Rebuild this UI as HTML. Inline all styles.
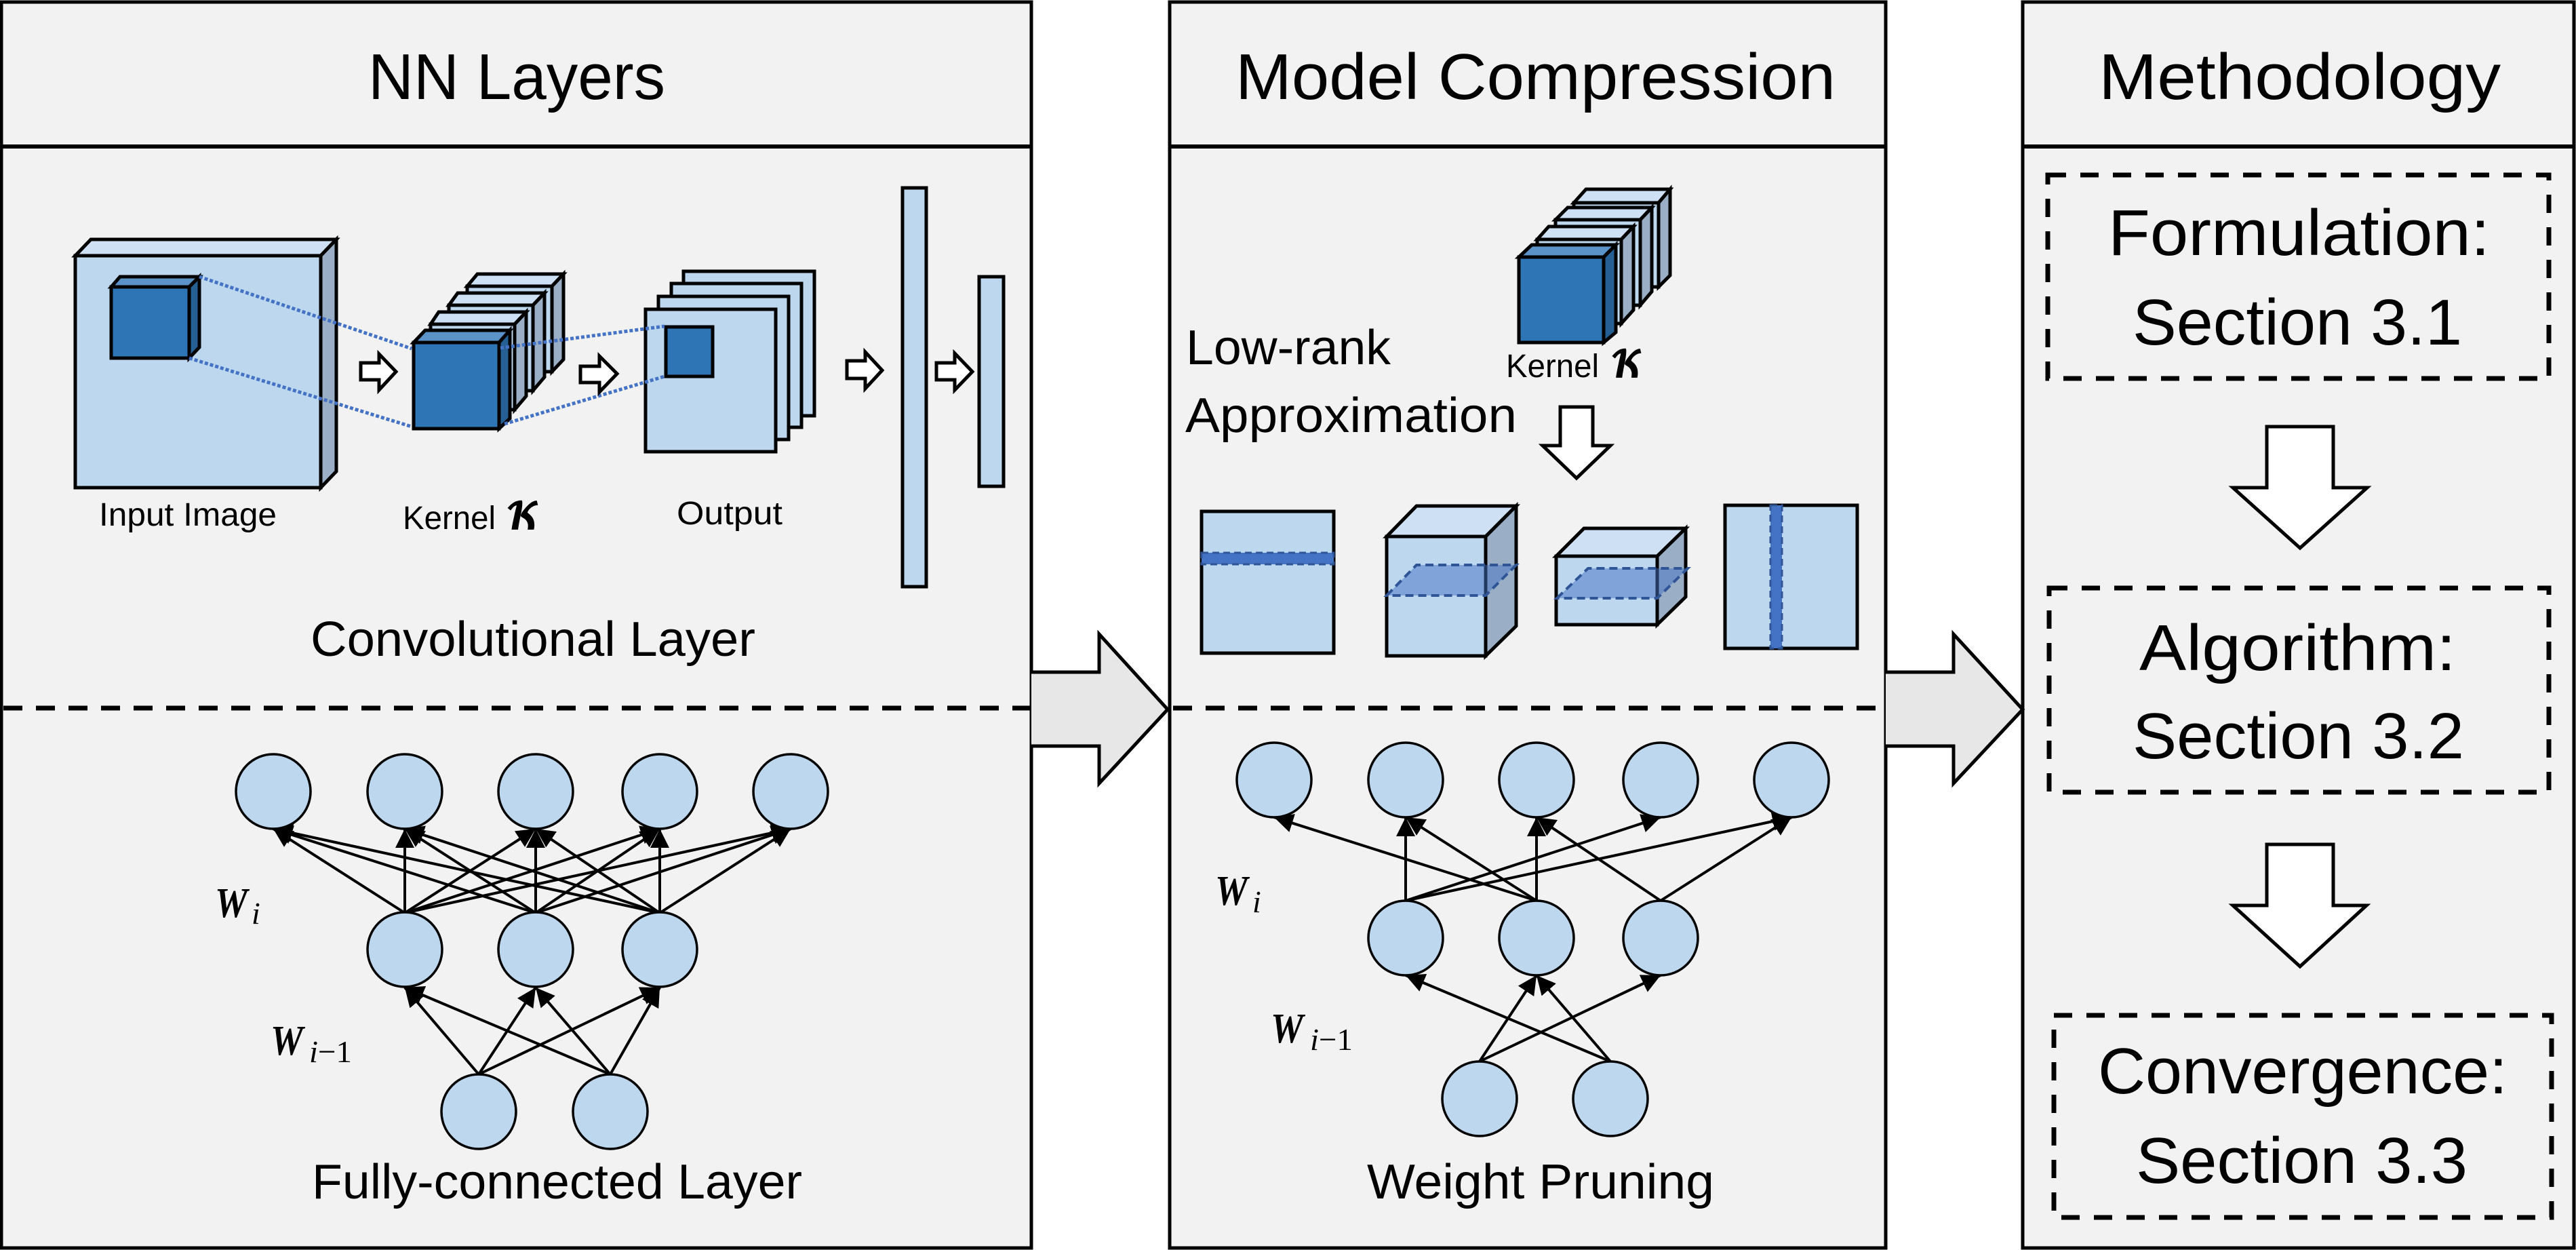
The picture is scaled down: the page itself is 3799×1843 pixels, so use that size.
<!DOCTYPE html>
<html><head><meta charset="utf-8"><style>
html,body{margin:0;padding:0;background:#fff}
svg{display:block}
text{font-family:"Liberation Sans",sans-serif;fill:#000}
.m{font-family:"Liberation Serif",serif;font-style:italic;font-weight:bold}
.i{font-family:"Liberation Serif",serif;font-style:italic}
.u{font-family:"Liberation Serif",serif;font-style:normal}
.s{font-family:"DejaVu Math TeX Gyre","DejaVu Serif","DejaVu Sans",serif;font-weight:bold}
</style></head><body>
<svg xmlns="http://www.w3.org/2000/svg" width="3799" height="1843" viewBox="0 0 3799 1843">
<defs><marker id="a" markerUnits="userSpaceOnUse" markerWidth="30" markerHeight="28" refX="28" refY="14" orient="auto"><path d="M0,0 L28,14 L0,28 z" fill="#000"/></marker></defs>
<rect width="3799" height="1843" fill="#fff"/>
<!-- panels -->
<g fill="#f2f2f2" stroke="#000" stroke-width="5">
<rect x="2" y="3" width="1519" height="1837"/><rect x="1725" y="3" width="1056" height="1837"/><rect x="2983" y="3" width="813" height="1837"/>
</g>
<g stroke="#000" stroke-width="6"><path d="M2,216H1521M1725,216H2781M2983,216H3796"/></g>
<path d="M5,1044H1519M1730,1044H2778" stroke="#000" stroke-width="7" stroke-dasharray="28 20" fill="none"/>
<g fill="none" stroke="#000" stroke-width="7" stroke-dasharray="27 21">
<rect x="3020" y="258" width="739" height="300"/><rect x="3022" y="867" width="737" height="301"/><rect x="3029" y="1497" width="734" height="298"/>
</g>
<!-- big arrows -->
<g fill="#e7e7e7" stroke="#000" stroke-width="5">
<path d="M1521,991H1621V935L1722,1046L1621,1155V1100H1521"/>
<path d="M2781,991H2881V935L2983,1046L2881,1155V1100H2781"/>
</g>
<!-- headers -->
<text x="543" y="146" font-size="96" textLength="438" lengthAdjust="spacingAndGlyphs">NN Layers</text>
<text x="1822" y="146" font-size="96" textLength="885" lengthAdjust="spacingAndGlyphs">Model Compression</text>
<text x="3095" y="146" font-size="96" textLength="593" lengthAdjust="spacingAndGlyphs">Methodology</text>
<!-- methodology -->
<g font-size="96">
<text x="3109" y="376" textLength="563" lengthAdjust="spacingAndGlyphs">Formulation:</text>
<text x="3145" y="508" textLength="486" lengthAdjust="spacingAndGlyphs">Section 3.1</text>
<text x="3155" y="988" textLength="467" lengthAdjust="spacingAndGlyphs">Algorithm:</text>
<text x="3145" y="1118" textLength="489" lengthAdjust="spacingAndGlyphs">Section 3.2</text>
<text x="3094" y="1612" textLength="604" lengthAdjust="spacingAndGlyphs">Convergence:</text>
<text x="3150" y="1744" textLength="489" lengthAdjust="spacingAndGlyphs">Section 3.3</text>
</g>
<g fill="#fff" stroke="#000" stroke-width="5">
<path d="M3343,629H3441V719H3491L3392,808L3293,719H3343Z"/>
<path d="M3343,1245H3441V1335H3490L3392,1425L3293,1335H3343Z"/>
</g>
<!-- input image -->
<g stroke="#000" stroke-width="5" stroke-linejoin="miter">
<path d="M111,377L134,353H496L473,377Z" fill="#cde0f4"/>
<path d="M473,377L496,353V695L473,719Z" fill="#9aafc5"/>
<rect x="111" y="377" width="362" height="342" fill="#bdd7ee"/>
<path d="M164,423L177,408H294L279,423Z" fill="#5b93c9"/>
<path d="M279,423L294,408V512L279,528Z" fill="#255f94"/>
<rect x="164" y="423" width="115" height="105" fill="#2e75b6"/>
<!-- kernel stack left -->
<path d="M689,422L704,404H831L814,422Z" fill="#cde0f4"/><path d="M814,422L831,404V530L814,548Z" fill="#9aafc5"/><rect x="689" y="422" width="125" height="126" fill="#bdd7ee"/>
<path d="M662,450L675,432H803L786,450Z" fill="#cde0f4"/><path d="M786,450L803,432V556L786,576Z" fill="#9aafc5"/><rect x="662" y="450" width="124" height="126" fill="#bdd7ee"/>
<path d="M635,478L647,460H776L759,478Z" fill="#cde0f4"/><path d="M759,478L776,460V584L759,604Z" fill="#9aafc5"/><rect x="635" y="478" width="124" height="126" fill="#bdd7ee"/>
<path d="M610,505L627,487H752L736,505Z" fill="#5b93c9"/><path d="M736,505L752,487V617L736,632Z" fill="#255f94"/><rect x="610" y="505" width="126" height="127" fill="#2e75b6"/>
<!-- output -->
<rect x="1008" y="400" width="193" height="213" fill="#bdd7ee"/>
<rect x="990" y="418" width="192" height="212" fill="#bdd7ee"/>
<rect x="971" y="437" width="192" height="211" fill="#bdd7ee"/>
<rect x="952" y="456" width="192" height="210" fill="#bdd7ee"/>
<rect x="982" y="482" width="69" height="73" fill="#2e75b6"/>
<rect x="1331" y="277" width="35" height="588" fill="#bdd7ee"/>
<rect x="1444" y="408" width="36" height="309" fill="#bdd7ee"/>
</g>
<g stroke="#4472c4" stroke-width="5" stroke-dasharray="5 3" fill="none">
<path d="M294,408L607,514M279,528L607,629M738,513L980,481M744,625L980,555"/>
</g>
<g fill="#fff" stroke="#000" stroke-width="5">
<path d="M532,535H559V522L584,548L559,575V560H532Z"/>
<path d="M856,540H884V525L910,551L884,578V564H856Z"/>
<path d="M1249,532H1276V519L1301,546L1276,573V558H1249Z"/>
<path d="M1381,535H1408V521L1434,548L1408,575V560H1381Z"/>
</g>
<g font-size="48">
<text x="146" y="775" textLength="262" lengthAdjust="spacingAndGlyphs">Input Image</text>
<text x="594" y="780" textLength="137" lengthAdjust="spacingAndGlyphs">Kernel</text>
<text x="998" y="773" textLength="156" lengthAdjust="spacingAndGlyphs">Output</text>
<text x="2221" y="556" textLength="137" lengthAdjust="spacingAndGlyphs">Kernel</text>
</g>
<text class="s" x="746" y="780" font-size="52" textLength="50" lengthAdjust="spacingAndGlyphs">&#x1D4DA;</text>
<text class="s" x="2375" y="556" font-size="52" textLength="48" lengthAdjust="spacingAndGlyphs">&#x1D4DA;</text>
<text x="458" y="967" font-size="72" textLength="656" lengthAdjust="spacingAndGlyphs">Convolutional Layer</text>
<text x="460" y="1767" font-size="72" textLength="723" lengthAdjust="spacingAndGlyphs">Fully-connected Layer</text>
<text x="2016" y="1767" font-size="72" textLength="512" lengthAdjust="spacingAndGlyphs">Weight Pruning</text>
<text x="1749" y="537" font-size="72" textLength="302" lengthAdjust="spacingAndGlyphs">Low-rank</text>
<text x="1748" y="637" font-size="72" textLength="489" lengthAdjust="spacingAndGlyphs">Approximation</text>
<!-- kernel stack middle -->
<g stroke="#000" stroke-width="5">
<path d="M2321,299L2339,279H2463L2446,299Z" fill="#cde0f4"/><path d="M2446,299L2463,279V406L2446,423Z" fill="#9aafc5"/><rect x="2321" y="299" width="125" height="124" fill="#bdd7ee"/>
<path d="M2294,324L2312,306H2436L2419,324Z" fill="#cde0f4"/><path d="M2419,324L2436,306V430L2419,450Z" fill="#9aafc5"/><rect x="2294" y="324" width="125" height="126" fill="#bdd7ee"/>
<path d="M2267,353L2284,334H2409L2391,353Z" fill="#cde0f4"/><path d="M2391,353L2409,334V457L2391,477Z" fill="#9aafc5"/><rect x="2267" y="353" width="124" height="124" fill="#bdd7ee"/>
<path d="M2240,379L2259,361H2383L2365,379Z" fill="#5b93c9"/><path d="M2365,379L2383,361V490L2365,505Z" fill="#255f94"/><rect x="2240" y="379" width="125" height="126" fill="#2e75b6"/>
<rect x="1772" y="754" width="195" height="209" fill="#bdd7ee"/>
<path d="M2045,791L2089,746H2236L2191,791Z" fill="#cde0f4"/><path d="M2191,791L2236,746V923L2191,967Z" fill="#9aafc5"/><rect x="2045" y="791" width="146" height="176" fill="#bdd7ee"/>
<path d="M2295,820L2336,779H2486L2444,820Z" fill="#cde0f4"/><path d="M2444,820L2486,779V880L2444,921Z" fill="#9aafc5"/><rect x="2295" y="820" width="149" height="101" fill="#bdd7ee"/>
<rect x="2544" y="745" width="195" height="211" fill="#bdd7ee"/>
</g>
<g stroke="#2f5597" stroke-width="3" stroke-dasharray="10 6">
<rect x="1772" y="815" width="195" height="17" fill="#4472c4"/>
<rect x="2611" y="745" width="17" height="211" fill="#4472c4"/>
</g>
<g stroke="#2f5597" stroke-width="4" stroke-dasharray="12 7">
<path d="M2045,878L2089,833H2236L2191,878Z" fill="#4472c4" fill-opacity=".5"/>
<path d="M2296,882L2342,838H2489L2444,882Z" fill="#4472c4" fill-opacity=".5"/>
</g>
<path d="M2301,600H2349V657H2375L2325,705L2275,657H2301Z" fill="#fff" stroke="#000" stroke-width="5"/>
<!-- FC -->
<g stroke="#000" stroke-width="4" fill="none">
<line x1="597" y1="1346" x2="403" y2="1222" marker-end="url(#a)"/>
<line x1="597" y1="1346" x2="597" y2="1222" marker-end="url(#a)"/>
<line x1="597" y1="1346" x2="790" y2="1222" marker-end="url(#a)"/>
<line x1="597" y1="1346" x2="973" y2="1222" marker-end="url(#a)"/>
<line x1="597" y1="1346" x2="1166" y2="1222" marker-end="url(#a)"/>
<line x1="790" y1="1346" x2="403" y2="1222" marker-end="url(#a)"/>
<line x1="790" y1="1346" x2="597" y2="1222" marker-end="url(#a)"/>
<line x1="790" y1="1346" x2="790" y2="1222" marker-end="url(#a)"/>
<line x1="790" y1="1346" x2="973" y2="1222" marker-end="url(#a)"/>
<line x1="790" y1="1346" x2="1166" y2="1222" marker-end="url(#a)"/>
<line x1="973" y1="1346" x2="403" y2="1222" marker-end="url(#a)"/>
<line x1="973" y1="1346" x2="597" y2="1222" marker-end="url(#a)"/>
<line x1="973" y1="1346" x2="790" y2="1222" marker-end="url(#a)"/>
<line x1="973" y1="1346" x2="973" y2="1222" marker-end="url(#a)"/>
<line x1="973" y1="1346" x2="1166" y2="1222" marker-end="url(#a)"/>
<line x1="706" y1="1584" x2="597" y2="1456" marker-end="url(#a)"/>
<line x1="706" y1="1584" x2="790" y2="1456" marker-end="url(#a)"/>
<line x1="706" y1="1584" x2="973" y2="1456" marker-end="url(#a)"/>
<line x1="900" y1="1584" x2="597" y2="1456" marker-end="url(#a)"/>
<line x1="900" y1="1584" x2="790" y2="1456" marker-end="url(#a)"/>
<line x1="900" y1="1584" x2="973" y2="1456" marker-end="url(#a)"/>
<!-- pruned -->
<line x1="2073" y1="1328" x2="2073" y2="1205" marker-end="url(#a)"/>
<line x1="2073" y1="1328" x2="2449" y2="1205" marker-end="url(#a)"/>
<line x1="2073" y1="1328" x2="2642" y2="1205" marker-end="url(#a)"/>
<line x1="2266" y1="1328" x2="1879" y2="1205" marker-end="url(#a)"/>
<line x1="2266" y1="1328" x2="2073" y2="1205" marker-end="url(#a)"/>
<line x1="2266" y1="1328" x2="2266" y2="1205" marker-end="url(#a)"/>
<line x1="2449" y1="1328" x2="2266" y2="1205" marker-end="url(#a)"/>
<line x1="2449" y1="1328" x2="2642" y2="1205" marker-end="url(#a)"/>
<line x1="2182" y1="1565" x2="2266" y2="1438" marker-end="url(#a)"/>
<line x1="2182" y1="1565" x2="2449" y2="1438" marker-end="url(#a)"/>
<line x1="2375" y1="1565" x2="2073" y2="1438" marker-end="url(#a)"/>
<line x1="2375" y1="1565" x2="2266" y2="1438" marker-end="url(#a)"/>
</g>
<g fill="#bdd7ee" stroke="#000" stroke-width="3.5">
<circle cx="403" cy="1167" r="55"/><circle cx="597" cy="1167" r="55"/><circle cx="790" cy="1167" r="55"/><circle cx="973" cy="1167" r="55"/><circle cx="1166" cy="1167" r="55"/>
<circle cx="597" cy="1400" r="55"/><circle cx="790" cy="1400" r="55"/><circle cx="973" cy="1400" r="55"/>
<circle cx="706" cy="1639" r="55"/><circle cx="900" cy="1639" r="55"/>
<circle cx="1879" cy="1150" r="55"/><circle cx="2073" cy="1150" r="55"/><circle cx="2266" cy="1150" r="55"/><circle cx="2449" cy="1150" r="55"/><circle cx="2642" cy="1150" r="55"/>
<circle cx="2073" cy="1383" r="55"/><circle cx="2266" cy="1383" r="55"/><circle cx="2449" cy="1383" r="55"/>
<circle cx="2182" cy="1620" r="55"/><circle cx="2375" cy="1620" r="55"/>
</g>
<text class="m" x="317" y="1352" font-size="62" textLength="48" lengthAdjust="spacingAndGlyphs">W</text><text class="i" x="371" y="1362" font-size="46">i</text>
<text class="m" x="399" y="1555" font-size="62" textLength="48" lengthAdjust="spacingAndGlyphs">W</text><text x="456" y="1566" font-size="46" class="i" textLength="63" lengthAdjust="spacingAndGlyphs">i<tspan class="u">−1</tspan></text>
<text class="m" x="1792" y="1334" font-size="62" textLength="48" lengthAdjust="spacingAndGlyphs">W</text><text class="i" x="1847" y="1345" font-size="46">i</text>
<text class="m" x="1874" y="1537" font-size="62" textLength="48" lengthAdjust="spacingAndGlyphs">W</text><text x="1932" y="1548" font-size="46" class="i" textLength="63" lengthAdjust="spacingAndGlyphs">i<tspan class="u">−1</tspan></text>
</svg>
</body></html>
